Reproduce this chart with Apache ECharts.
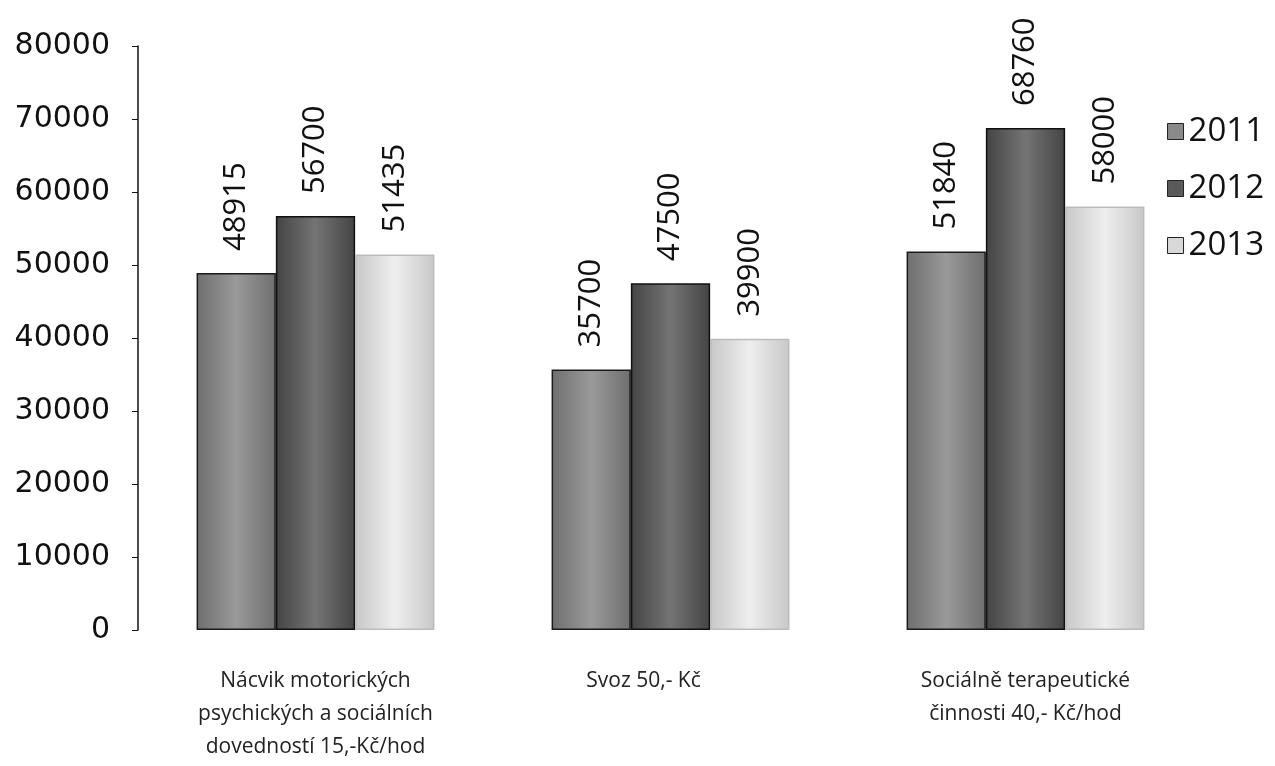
<!DOCTYPE html>
<html>
<head>
<meta charset="utf-8">
<script src="https://cdn.jsdelivr.net/npm/echarts@6/dist/echarts.min.js"></script>
<style>html,body{margin:0;padding:0;background:#fff;}#c{width:1275px;height:766px;}</style>
</head>
<body>
<div id="c"></div>
<script>
const categories = ["Nácvik motorických\npsychických a sociálních\ndovedností 15,-Kč/hod", "Svoz 50,- Kč", "Sociálně terapeutické\nčinnosti 40,- Kč/hod"];
const seriesNames = ["2011", "2012", "2013"];
const values2011 = [48915, 35700, 51840];
const values2012 = [56700, 47500, 68760];
const values2013 = [51435, 39900, 58000];
const yTicks = { min: 0, max: 80000, interval: 10000 };

function grad(edge, mid) {
  return new echarts.graphic.LinearGradient(0, 0, 1, 0, [
    { offset: 0, color: edge }, { offset: 0.5, color: mid }, { offset: 1, color: edge }
  ]);
}
const styles = [
  { color: grad('#6e6e6e', '#9a9a9a'), borderColor: '#1a1a1a' },
  { color: grad('#444', '#747474'), borderColor: '#111' },
  { color: grad('#c8c8c8', '#eeeeee'), borderColor: '#bbb' }
];
const legendColors = ['#8a8a8a', '#5a5a5a', '#d8d8d8'];
const dataSets = [values2011, values2012, values2013];

const chart = echarts.init(document.getElementById('c'));
chart.setOption({
  animation: false,
  backgroundColor: '#fff',
  grid: { left: 138, right: 72, top: 46, bottom: 136 },
  legend: {
    orient: 'vertical', right: 6, top: 110, icon: 'rect',
    itemWidth: 16, itemHeight: 16, itemGap: 24,
    textStyle: { fontFamily: 'Open Sans', fontSize: 33, color: '#111' },
    data: seriesNames.map((n, i) => ({ name: n, itemStyle: { color: legendColors[i], borderColor: '#222', borderWidth: 1 } }))
  },
  xAxis: {
    type: 'category',
    data: categories.map((c, i) => i === 1 ? { value: c, textStyle: { padding: [0, 54, 0, 0] } } : c),
    axisLine: { show: false }, axisTick: { show: false },
    axisLabel: { fontFamily: 'Open Sans', fontSize: 21, color: '#222', lineHeight: 33, margin: 35, interval: 0 }
  },
  yAxis: {
    type: 'value', min: yTicks.min, max: yTicks.max, interval: yTicks.interval,
    axisLine: { show: true, lineStyle: { color: '#111', width: 1.5 } },
    axisTick: { show: true, inside: false, length: 6, lineStyle: { color: '#111' } },
    splitLine: { show: false },
    axisLabel: { fontFamily: 'DejaVu Sans', fontSize: 30, color: '#111', margin: 28, formatter: v => String(v) }
  },
  series: seriesNames.map((n, i) => ({
    name: n, type: 'bar', data: dataSets[i],
    barGap: '0%', barCategoryGap: '33%',
    itemStyle: { color: styles[i].color, borderColor: styles[i].borderColor, borderWidth: 1.5 },
    label: {
      show: true, position: 'top', rotate: 90, align: 'left', verticalAlign: 'middle',
      distance: 22, fontFamily: 'Open Sans', fontSize: 31, color: '#111'
    }
  }))
});
</script>
</body>
</html>
